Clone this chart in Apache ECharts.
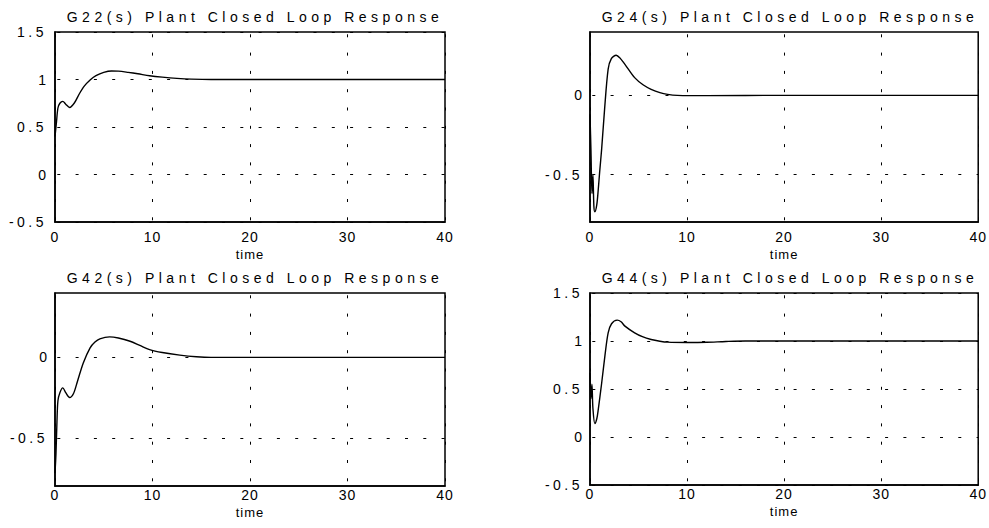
<!DOCTYPE html>
<html>
<head>
<meta charset="utf-8">
<script src="https://cdn.jsdelivr.net/npm/echarts@6/dist/echarts.min.js"></script>
<style>
html,body{margin:0;padding:0;background:#fff;}
#chart{width:989px;height:528px;}
</style>
</head>
<body>
<div id="chart"></div>
<script>
// ---- data ----
const titles = ['G22(s) Plant Closed Loop Response','G24(s) Plant Closed Loop Response','G42(s) Plant Closed Loop Response','G44(s) Plant Closed Loop Response'];
const xName = 'time';
const xTicks = [0, 10, 20, 30, 40];

const g22T = [0,0.15,0.3,0.5,0.8,1.1,1.5,2.0,2.5,3.0,3.6,4.2,5.0,5.8,6.5,7.5,8.5,9.7,11,12.5,14,16,20,30,40];
const g22V = [0.4,0.55,0.7,0.75,0.77,0.74,0.705,0.755,0.85,0.93,0.995,1.04,1.075,1.09,1.088,1.075,1.06,1.04,1.025,1.012,1.004,1.0,1.0,1.0,1.0];

const g24T = [0,0.1,0.2,0.3,0.4,0.5,0.7,0.85,1.0,1.2,1.5,1.87,2.2,2.7,3.1,3.6,4.6,5.5,6.3,7.2,8.0,9,12,20,40];
const g24V = [-0.12,-0.35,-0.62,-0.5,-0.7,-0.735,-0.69,-0.595,-0.48,-0.34,-0.09,0.165,0.232,0.253,0.235,0.196,0.112,0.065,0.038,0.017,0.006,0.0,-0.002,0,0];

const g42T = [0,0.1,0.2,0.3,0.5,0.8,1.1,1.5,1.9,2.3,2.9,3.6,4.1,4.6,5.6,6.5,7.7,8.7,9.7,11,12.8,14.5,16,20,40];
const g42V = [-0.72,-0.6,-0.4,-0.27,-0.22,-0.19,-0.22,-0.25,-0.225,-0.15,-0.035,0.059,0.095,0.115,0.127,0.12,0.1,0.074,0.048,0.03,0.014,0.004,0,0,0];

const g44T = [0,0.1,0.2,0.3,0.5,0.7,0.85,1.2,1.53,1.87,2.22,2.8,3.2,3.6,4.6,5.4,6.3,7.2,8,10,12,14,16,20,40];
const g44V = [0.67,0.4,0.55,0.3,0.14,0.19,0.285,0.56,0.84,1.085,1.18,1.217,1.2,1.155,1.085,1.045,1.016,0.998,0.988,0.985,0.987,0.995,1.0,1.0,1.0];

const yRanges = [[-0.5,1.5],[-0.8,0.4],[-0.8,0.4],[-0.5,1.5]];
const yGridVals = [[0,0.5,1],[-0.5,0],[-0.5,0],[0,0.5,1]];

// ---- layout/styles ----
const FONT = '"Liberation Sans", Arial, Helvetica, sans-serif';
const grids = [
  {left:55, top:32, width:390, height:190},
  {left:590, top:32, width:391, height:190},
  {left:55, top:293, width:390, height:193},
  {left:590, top:293, width:391, height:192}
];
const titleCenters = [[250,5],[785,5],[250,266],[785,266]];
const xLabelMargin = [8,8,2,2];
const xNameGap = [26,26,20,20];
const yLabelMargin = [8,7,7,7];
const dotted = {color:'#000', width:1, type:[3,15.3], dashOffset:16};
const series = [[g22T,g22V],[g24T,g24V],[g42T,g42V],[g44T,g44V]];

const option = {
  animation:false,
  backgroundColor:'#fff',
  title: titles.map((t,i)=>({
    text:t, left:titleCenters[i][0], top:titleCenters[i][1], textAlign:'center',
    textStyle:{fontFamily:FONT, fontSize:14, fontWeight:'normal', color:'#000'}
  })),
  grid: grids.map(g=>Object.assign({show:true, borderColor:'#000', borderWidth:1.5, backgroundColor:'#fff'}, g)),
  xAxis: grids.map((g,i)=>({
    type:'value', gridIndex:i, min:0, max:40, interval:10,
    name:xName, nameLocation:'middle', nameGap:xNameGap[i],
    nameTextStyle:{fontFamily:FONT, fontSize:13, color:'#000'},
    axisLine:{show:true, onZero:false, lineStyle:{color:'#000', width:1.5}},
    axisTick:{show:false},
    axisLabel:{fontFamily:FONT, fontSize:14, color:'#000', margin:xLabelMargin[i],
      formatter:v=> xTicks.indexOf(v)>=0 ? String(v) : ''},
    splitLine:{show:true, lineStyle:dotted}
  })),
  yAxis: grids.map((g,i)=>{
    const r = yRanges[i];
    const full = (r[0] === -0.5);
    return {
      type:'value', gridIndex:i, min:r[0], max:r[1], interval: full ? 0.5 : 0.1,
      axisLine:{show:true, onZero:false, lineStyle:{color:'#000', width:1.5}},
      axisTick:{show:false},
      axisLabel:{fontFamily:FONT, fontSize:14, color:'#000', margin:yLabelMargin[i],
        formatter:v=>{
          const k = Math.round(v*2);
          if (Math.abs(v*2-k) > 1e-6) return '';
          return String(k/2);
        }},
      splitLine:{show:full, lineStyle:dotted}
    };
  }),
  series: series.map((s,i)=>{
    const r = yRanges[i];
    const full = (r[0] === -0.5);
    const data = s[0].map((t,j)=>[t, s[1][j]]);
    const ser = {
      type:'line', xAxisIndex:i, yAxisIndex:i, data:data,
      showSymbol:false, smooth:0.3, z:5,
      lineStyle:{color:'#000', width:1.4}
    };
    if (!full) {
      ser.markLine = {
        silent:true, symbol:'none', label:{show:false},
        lineStyle:dotted,
        data: yGridVals[i].map(v=>({yAxis:v}))
      };
    }
    return ser;
  })
};

const chart = echarts.init(document.getElementById('chart'), null, {renderer:'svg'});
chart.setOption(option);

function spaceText(){
  document.querySelectorAll('#chart text').forEach(el=>{
    const s = el.textContent;
    if (/^G\d\d/.test(s)) el.style.letterSpacing = '4.5px';
    else if (s === xName) el.style.letterSpacing = '1px';
    else if (/[.\-]/.test(s)) el.style.letterSpacing = '3.5px';
    else el.style.letterSpacing = '1px';
  });
}
spaceText();
chart.on('finished', spaceText);
</script>
</body>
</html>
